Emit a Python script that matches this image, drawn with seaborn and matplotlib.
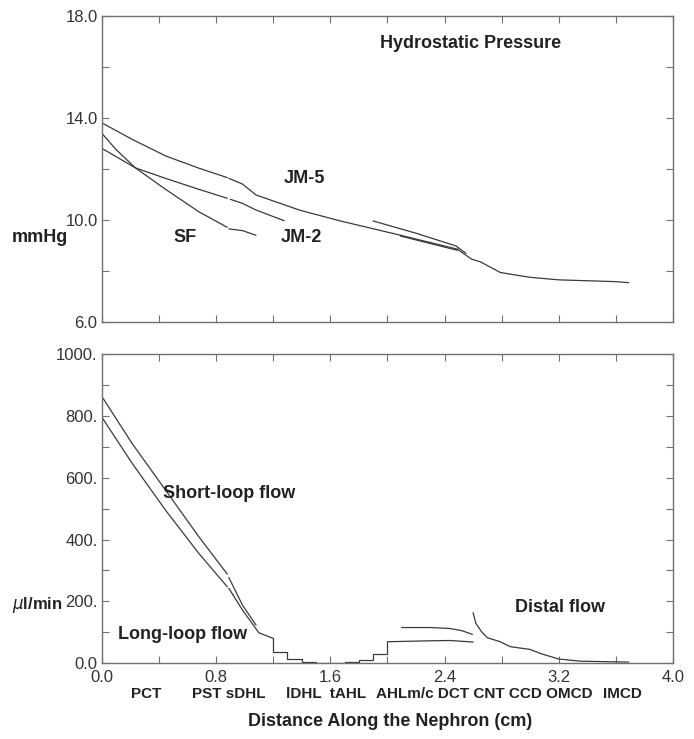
import numpy as np
import pandas as pd
import seaborn as sns
import matplotlib.pyplot as plt
from matplotlib.ticker import MultipleLocator

# ---- top panel: hydrostatic pressure (mmHg) ----
sf_pct_x = [0.0, 0.10, 0.236, 0.447, 0.68, 0.879]
sf_pct_y = [13.39, 12.75, 12.03, 11.19, 10.31, 9.70]
sf_pst_x = [0.89, 0.985, 1.08]
sf_pst_y = [9.64, 9.57, 9.39]

jm2_pct_x = [0.0, 0.236, 0.447, 0.68, 0.879]
jm2_pct_y = [12.80, 12.03, 11.62, 11.19, 10.84]
jm2_pst_x = [0.90, 0.985, 1.08, 1.277]
jm2_pst_y = [10.80, 10.64, 10.38, 9.96]

jm5_pct_x = [0.0, 0.213, 0.447, 0.68, 0.879]
jm5_pct_y = [13.80, 13.15, 12.50, 12.02, 11.65]
jm5_rest_x = [0.89, 0.985, 1.08, 1.382, 1.663, 2.084, 2.493]
jm5_rest_y = [11.62, 11.40, 10.97, 10.38, 9.96, 9.40, 8.84]

dist_a_x = [1.90, 2.20, 2.48, 2.55]
dist_a_y = [9.95, 9.47, 8.97, 8.68]
dist_b_x = [2.09, 2.49]
dist_b_y = [9.36, 8.80]
dist_p_x = [2.49, 2.59, 2.65, 2.79, 2.93, 3.0, 3.2, 3.6, 3.69]
dist_p_y = [8.84, 8.45, 8.35, 7.93, 7.80, 7.74, 7.64, 7.57, 7.53]

# ---- bottom panel: flow (ul/min) ----
short_x = [0.0, 0.213, 0.447, 0.68, 0.879]
short_y = [864, 711, 560, 409, 288]
short_pst_x = [0.89, 0.985, 1.08]
short_pst_y = [277, 188, 123]

long_x = [0.0, 0.213, 0.447, 0.68, 0.879]
long_y = [797, 647, 495, 355, 247]
long_pst_x = [0.89, 0.985, 1.10, 1.2]
long_pst_y = [242, 172, 98, 80]

loop_x = [1.2, 1.2, 1.3, 1.4, 1.5, 1.7, 1.8, 1.9, 2.0]
loop_y = [80, 37, 12, 3, 0, 3, 10, 28, 69]

long_dist_x = [2.0, 2.3, 2.44, 2.6]
long_dist_y = [69, 72, 73, 68]
short_dist_x = [2.10, 2.30, 2.435, 2.52, 2.595]
short_dist_y = [115, 115, 112, 105, 93]

distal_x = [2.60, 2.62, 2.66, 2.70, 2.79, 2.86, 3.0, 3.07, 3.2, 3.35, 3.69]
distal_y = [163, 128, 101, 82, 69, 53, 44, 31, 13, 6, 3]

segment_names = ["PCT", "PST sDHL", "lDHL  tAHL", "AHLm/c DCT CNT CCD OMCD", "IMCD"]
segment_pos = [146, 229, 326, 484, 622]

sns.set_style("ticks")
plt.rcParams['font.family'] = ['Liberation Sans', 'DejaVu Sans']

line_col = '#3a3a3a'
spine_col = '#707070'

fig = plt.figure(figsize=(6.94, 7.39), dpi=100)
ax1 = fig.add_axes([0.1466, 0.5647, 0.8232, 0.4141])
ax2 = fig.add_axes([0.1466, 0.1028, 0.8232, 0.4177])


def seg(ax, x, y, **kw):
    df = pd.DataFrame({'x': x, 'y': y})
    sns.lineplot(data=df, x='x', y='y', ax=ax, sort=False, estimator=None,
                 color=line_col, lw=0.9, **kw)


for x, y in [(sf_pct_x, sf_pct_y), (sf_pst_x, sf_pst_y),
             (jm2_pct_x, jm2_pct_y), (jm2_pst_x, jm2_pst_y),
             (jm5_pct_x, jm5_pct_y), (jm5_rest_x, jm5_rest_y),
             (dist_a_x, dist_a_y), (dist_b_x, dist_b_y), (dist_p_x, dist_p_y)]:
    seg(ax1, x, y)

for x, y in [(short_x, short_y), (short_pst_x, short_pst_y),
             (long_x, long_y), (long_pst_x, long_pst_y),
             (long_dist_x, long_dist_y), (short_dist_x, short_dist_y),
             (distal_x, distal_y)]:
    seg(ax2, x, y)
seg(ax2, loop_x, loop_y, drawstyle='steps-post')

# axes styling
for ax in (ax1, ax2):
    ax.set_xlim(0, 4)
    ax.xaxis.set_major_locator(MultipleLocator(0.8))
    ax.xaxis.set_minor_locator(MultipleLocator(0.4))
    ax.tick_params(which='both', direction='in', top=True, right=True,
                   length=5, width=0.8, color=spine_col, labelsize=12, pad=3,
                   labelcolor='#333333')
    for s in ax.spines.values():
        s.set_color(spine_col)
        s.set_linewidth(1.0)
    ax.set_xlabel('')
    ax.set_ylabel('')

ax1.set_ylim(6, 18)
ax1.set_yticks([6, 10, 14, 18])
ax1.set_yticklabels(['6.0', '10.0', '14.0', '18.0'])
ax1.yaxis.set_minor_locator(MultipleLocator(2))
ax1.tick_params(axis='x', which='both', labelbottom=False)

ax2.set_ylim(0, 1000)
ax2.set_yticks([0, 200, 400, 600, 800, 1000])
ax2.set_yticklabels(['0.0', '200.', '400.', '600.', '800.', '1000.'])
ax2.yaxis.set_minor_locator(MultipleLocator(100))
ax2.set_xticks([0, 0.8, 1.6, 2.4, 3.2, 4.0])
ax2.set_xticklabels(['0.0', '0.8', '1.6', '2.4', '3.2', '4.0'])
ax2.tick_params(axis='x', pad=5)

# annotations
bold = dict(fontsize=13, fontweight='bold', color='#222222', ha='center', va='center')
ax1.text(2.58, 16.9, 'Hydrostatic Pressure', **bold)
ax1.text(1.42, 11.6, 'JM-5', **bold)
ax1.text(0.58, 9.32, 'SF', **bold)
ax1.text(1.40, 9.32, 'JM-2', **bold)
ax2.text(0.895, 550, 'Short-loop flow', **bold)
ax2.text(0.563, 94, 'Long-loop flow', **bold)
ax2.text(3.21, 181, 'Distal flow', **bold)

fig.text(40 / 694, 1 - 237 / 739, 'mmHg', **bold)
fig.text(37 / 694, 1 - 605 / 739, r'$\mu$l/min', fontsize=12, fontweight='bold',
         color='#222222', ha='center', va='center')

for name, px in zip(segment_names, segment_pos):
    fig.text(px / 694, 1 - 694 / 739, name, fontsize=11, fontweight='bold',
             color='#222222', ha='center', va='center')
fig.text(390 / 694, 1 - 722 / 739, 'Distance Along the Nephron (cm)', **bold)

fig.savefig('out.png', dpi=100, facecolor='white')
